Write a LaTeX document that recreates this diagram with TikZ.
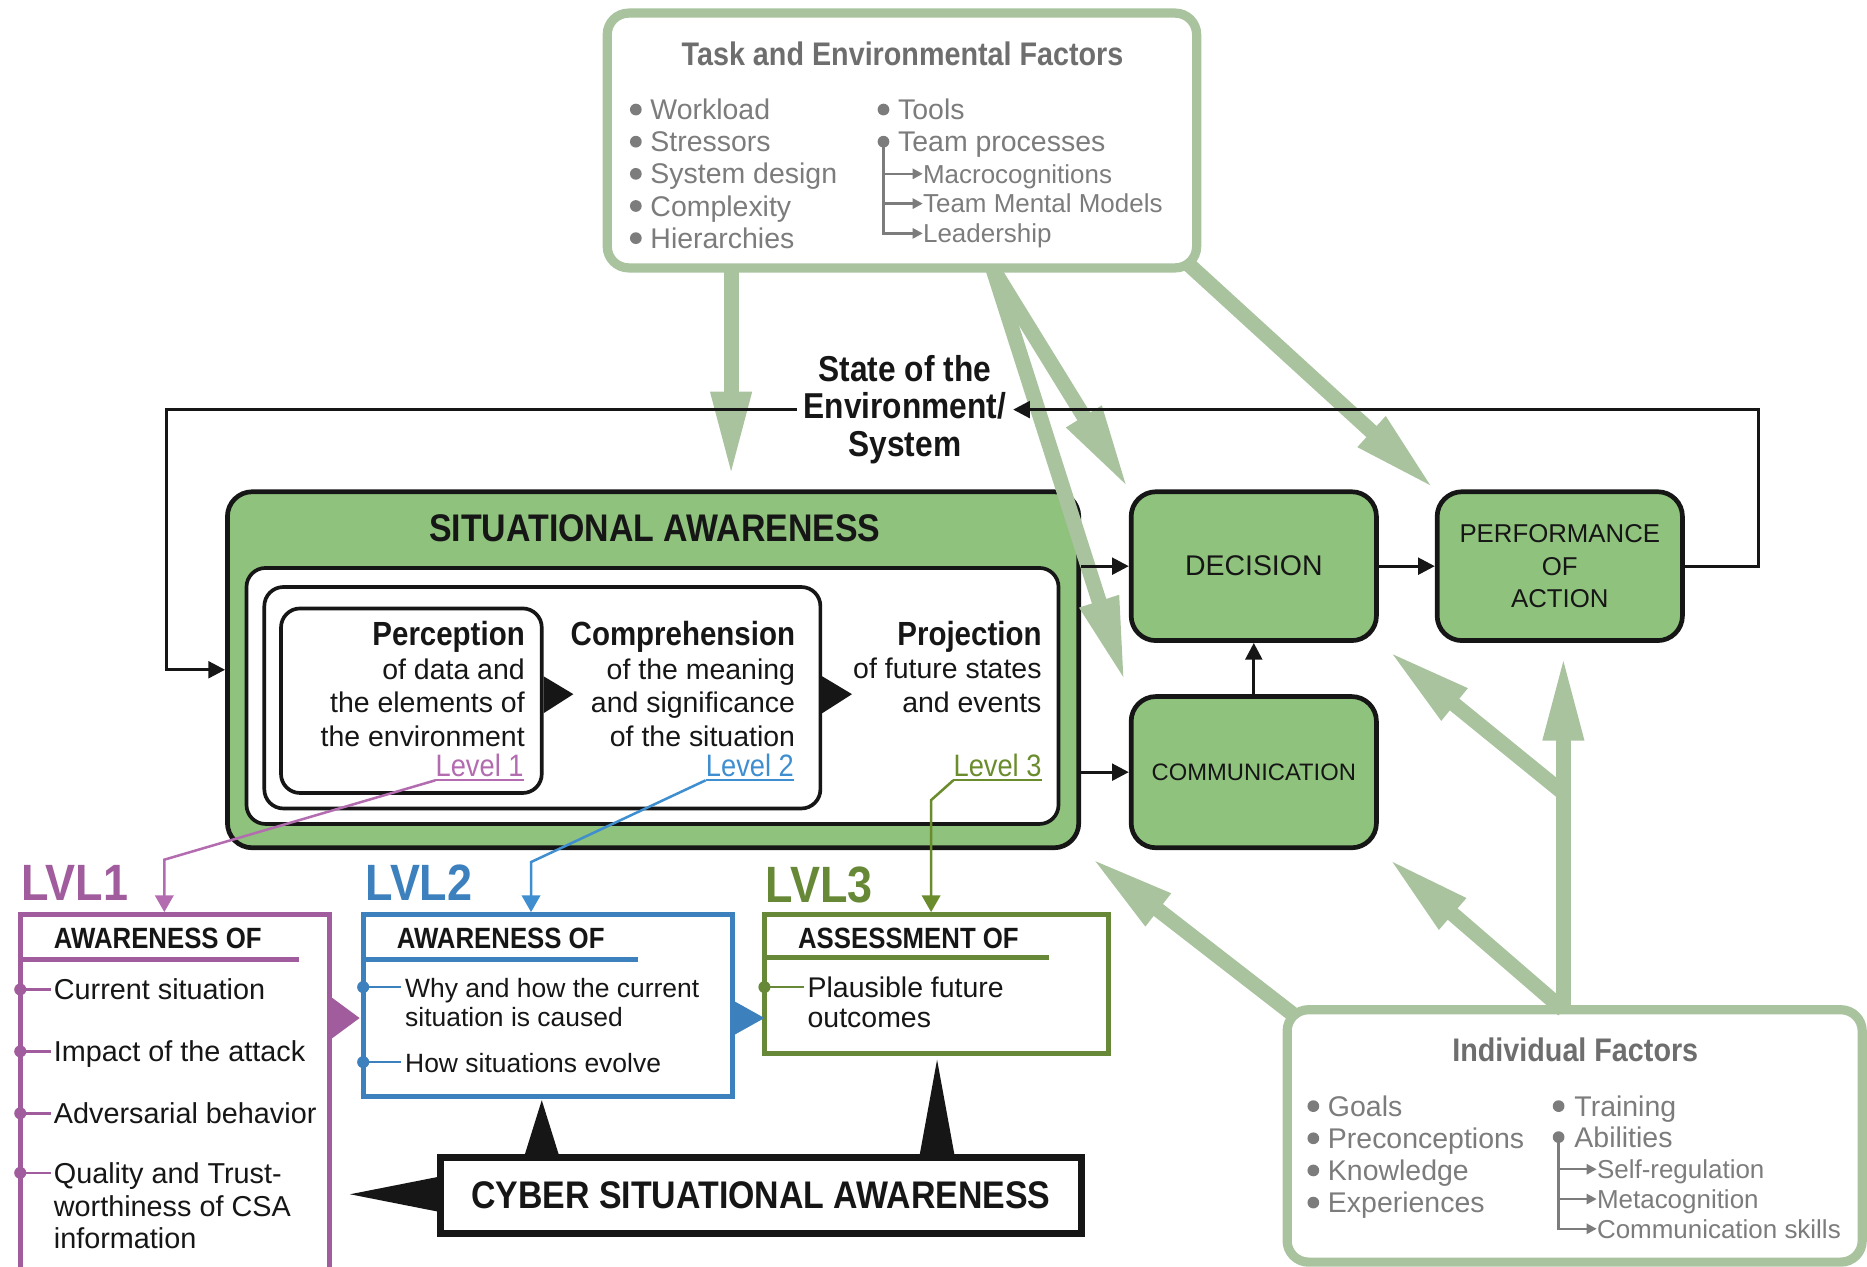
\documentclass[tikz,border=0pt]{standalone}
\usepackage{fontspec}
\setmainfont{Liberation Sans}
\newfontfamily\narrowfont[FakeStretch=0.88]{Liberation Sans}
\usepackage{xcolor}
\usepackage{tikz}
\usetikzlibrary{arrows.meta,fit}

\definecolor{boxgreen}{HTML}{8FC27C}
\definecolor{sage}{HTML}{A9C39F}
\definecolor{factorgray}{HTML}{7C7C7C}
\definecolor{titlegray}{HTML}{6E6E6E}
\definecolor{inkblack}{HTML}{161616}
\definecolor{lvlpurple}{HTML}{A15C9D}
\definecolor{lvlblue}{HTML}{3C80BD}
\definecolor{lvlolive}{HTML}{678937}
\definecolor{tagpurple}{HTML}{B36CB0}
\definecolor{tagblue}{HTML}{3F8ED0}
\definecolor{tagolive}{HTML}{6A8C2C}

\newcommand{\fsz}[2]{\fontsize{#1}{#2}\selectfont}
\newcommand{\headfont}{\narrowfont\bfseries}

\tikzset{
  flowbox/.style={draw=inkblack, line width=2.8pt, fill=boxgreen, rounded corners=0.52cm, inner sep=0pt},
  boxlabel/.style={text=inkblack, align=center, inner sep=0pt},
  framebox/.style={draw=inkblack, line width=2.2pt, rounded corners=0.4cm, inner sep=0pt},
  factorbox/.style={draw=sage, line width=5.5pt, fill=white, rounded corners=0.45cm, inner sep=0pt},
  factortitle/.style={text=titlegray, font=\headfont\fsz{19.5}{20}, inner sep=0pt},
  factoritem/.style={text=factorgray, font=\fsz{17}{20}, anchor=west, inner sep=0pt, text height=12pt, text depth=0pt},
  subitem/.style={factoritem, font=\fsz{15.5}{18}, text height=11pt},
  bulletdot/.style={circle, fill=factorgray, inner sep=0pt, minimum size=7pt},
  subarrow/.style={factorgray, line width=1.4pt, -{Triangle[length=6pt, width=6pt]}},
  bigarrow/.style={sage, line width=9pt, -{Triangle[length=1.8cm, width=0.78cm]}, shorten >=0.25cm},
  flow/.style={inkblack, line width=1.8pt, -{Triangle[length=10pt, width=10pt]}},
  satext/.style={align=right, font=\fsz{17}{20}, inner sep=0pt, anchor=east, text=inkblack},
  levellabel/.style={font=\narrowfont\fsz{18.5}{20}, inner sep=0pt, anchor=base east},
  lvlbox/.style={draw=#1, line width=2.8pt, fill=white, inner sep=0pt},
  lvlhead/.style={font=\headfont\fsz{17.5}{20}, anchor=base west, inner sep=0pt, text=inkblack},
  lvlitem/.style={font=\fsz{17.2}{19.3}, anchor=west, inner sep=0pt, text height=12pt, text depth=0pt, text=inkblack},
  lvlmulti/.style={font=\fsz{17.2}{19.3}, anchor=north west, inner sep=0pt, align=left, text=inkblack},
  lvltag/.style={text=#1, font=\headfont\fsz{30.5}{32}, anchor=base west, inner sep=0pt},
  lvlpin/.style={draw=#1, line width=1.5pt, -{Triangle[length=10pt, width=11pt]}},
}

\begin{document}
\begin{tikzpicture}[x=0.025cm, y=-0.025cm]
  \useasboundingbox (0,0) rectangle (1568,1064);

  \node[factorbox, fit={(510,11) (1005,225)}] (task) {};
  \node[factortitle] (tasktitle) at (758,45) {Task and Environmental Factors};
  \foreach \txt [count=\i] in {Workload,Stressors,System design,Complexity,Hierarchies} {
    \node[bulletdot] (tb\i) at (534,65+27*\i) {};
    \node[factoritem] (ti\i) at (546,65+27*\i) {\txt};
  }
  \node[bulletdot] (tb6) at (742,92) {};
  \node[factoritem] (ti6) at (754,92) {Tools};
  \node[bulletdot] (tb7) at (742,119) {};
  \node[factoritem] (ti7) at (754,119) {Team processes};
  \foreach \txt [count=\i] in {Macrocognitions,Team Mental Models,Leadership} {
    \node[subitem] (ts\i) at (775,121+25*\i) {\txt};
    \draw[subarrow] (tb7.center) |- (ts\i.west);
  }

  \node[factorbox, fit={(1081,848) (1564,1060)}] (indiv) {};
  \node[factortitle] (indtitle) at (1323,882) {Individual Factors};
  \foreach \txt [count=\i] in {Goals,Preconceptions,Knowledge,Experiences} {
    \node[bulletdot] (ib\i) at (1103,902+27*\i) {};
    \node[factoritem] (ii\i) at (1115,902+27*\i) {\txt};
  }
  \node[bulletdot] (ib5) at (1309,929) {};
  \node[factoritem] (ii5) at (1322,929) {Training};
  \node[bulletdot] (ib6) at (1309,955) {};
  \node[factoritem] (ii6) at (1322,955) {Abilities};
  \foreach \txt [count=\i] in {Self-regulation,Metacognition,Communication skills} {
    \node[subitem] (is\i) at (1341,957+25*\i) {\txt};
    \draw[subarrow] (ib6.center) |- (is\i.west);
  }

  \coordinate (sadrop) at (614,226);
  \coordinate (taskfoot) at (834,226);
  \coordinate (taskcorner) at (996,220);
  \coordinate (indtop) at (1313,848);
  \coordinate (indmid) at (1313,666);
  \coordinate (indcorner) at (1086,852);
  \coordinate (leftturn) at (140,344);
  \coordinate (rightturn) at (1477,344);

  \node[flowbox, fit={(191,413) (906,712)}] (sa) {};
  \node[flowbox, fit={(950,413) (1156,538)},
        label={[boxlabel, font=\fsz{17}{20}]center:DECISION}] (dec) {};
  \node[flowbox, fit={(1207,413) (1413,538)},
        label={[boxlabel, font=\fsz{15.4}{19.5}]center:PERFORMANCE\\OF\\ACTION}] (perf) {};
  \node[flowbox, fit={(950,585) (1156,712)},
        label={[boxlabel, font=\fsz{14.2}{17}]center:COMMUNICATION}] (comm) {};

  \draw[bigarrow] (sadrop) -- (sadrop |- sa.north);
  \draw[bigarrow, shorten >=0pt] (taskfoot) -- (dec.north west);
  \draw[bigarrow] (taskfoot) -- (comm.north west);
  \draw[bigarrow, shorten >=0pt] (taskcorner) -- (perf.north west);
  \draw[bigarrow] (indtop) -- (indtop |- perf.south);
  \draw[bigarrow] (indmid) -- (dec.south east);
  \draw[bigarrow] (indtop) -- (comm.south east);
  \draw[bigarrow] (indcorner) -- (sa.south east);

  \node[font=\headfont\fsz{23}{24}, inner sep=0pt, text=inkblack] (satitle) at (550,444) {SITUATIONAL AWARENESS};
  \node[framebox, fill=white, fit={(207,477) (889,692)}] (sainner) {};
  \node[framebox, fit={(222,493) (689,679)}] (compframe) {};
  \node[framebox, fit={(236,511) (455,666)}] (percframe) {};
  \node[satext] (perc) at (441,574.5) {{\headfont\fsz{20}{20}Perception}\\of data and\\the elements of\\the environment};
  \node[satext] (comp) at (668,574.5) {{\headfont\fsz{20}{20}Comprehension}\\of the meaning\\and significance\\of the situation};
  \node[satext] (proj) at (875,560) {{\headfont\fsz{20}{20}Projection}\\of future states\\and events};
  \fill[inkblack] (percframe.east |- 0,568) -- ++(25,15) -- ++(-25,16) -- cycle;
  \fill[inkblack] (compframe.east |- 0,568) -- ++(25,15) -- ++(-25,16) -- cycle;

  \node[levellabel, text=tagpurple] (lv1) at (440,652) {Level 1};
  \node[levellabel, text=tagblue] (lv2) at (667,652) {Level 2};
  \node[levellabel, text=tagolive] (lv3) at (875,652) {Level 3};
  \coordinate (lv1foot) at ([yshift=-2pt]lv1.south west);
  \coordinate (lv2foot) at ([yshift=-2pt]lv2.south west);
  \coordinate (lv3foot) at ([yshift=-2pt]lv3.south west);
  \draw[tagpurple, line width=1.4pt] (lv1foot) -- ([yshift=-2pt]lv1.south east);
  \draw[tagblue, line width=1.4pt] (lv2foot) -- ([yshift=-2pt]lv2.south east);
  \draw[tagolive, line width=1.4pt] (lv3foot) -- ([yshift=-2pt]lv3.south east);

  \node[lvlbox=lvlpurple, fit={(17,768) (277,1090)}] (box1) {};
  \node[lvlbox=lvlblue, fit={(305,768) (615,921)}] (box2) {};
  \node[lvlbox=lvlolive, fit={(642,768) (931,885)}] (box3) {};

  \coordinate (bend1) at (138,722);
  \coordinate (bend2) at (446,724);
  \coordinate (bend3) at (782,672);
  \draw[lvlpin=tagpurple] (lv1foot) -- (bend1) -- (bend1 |- box1.north);
  \draw[lvlpin=tagblue] (lv2foot) -- (bend2) -- (bend2 |- box2.north);
  \draw[lvlpin=tagolive] (lv3foot) -- (bend3) -- (bend3 |- box3.north);

  \node[lvltag=lvlpurple] (tag1) at (18,756) {LVL1};
  \node[lvltag=lvlblue] (tag2) at (307,756) {LVL2};
  \node[lvltag=lvlolive] (tag3) at (643,758) {LVL3};

  \node[lvlhead] (h1) at (45,797) {AWARENESS OF};
  \draw[lvlpurple, line width=2.8pt] (box1.west |- 0,806) -- (251,806);
  \node[lvlitem] (l1a) at (45,831) {Current situation};
  \node[lvlitem] (l1b) at (45,883) {Impact of the attack};
  \node[lvlitem] (l1c) at (45,935) {Adversarial behavior};
  \node[lvlmulti] (l1d) at (45,976.5) {Quality and Trust-\\worthiness of CSA\\information};
  \foreach \y in {831,883,935,985} {
    \fill[lvlpurple] (17,\y) circle (3.6pt);
    \draw[lvlpurple, line width=1.5pt] (17,\y) -- (43,\y);
  }

  \node[lvlhead] (h2) at (333,797) {AWARENESS OF};
  \draw[lvlblue, line width=2.8pt] (box2.west |- 0,806) -- (536,806);
  \node[lvlmulti, font=\fsz{15.8}{17.8}] (l2a) at (340,821) {Why and how the current\\situation is caused};
  \node[lvlitem, font=\fsz{15.8}{17.8}] (l2b) at (340,892) {How situations evolve};
  \foreach \y in {829,892} {
    \fill[lvlblue] (305,\y) circle (3.6pt);
    \draw[lvlblue, line width=1.5pt] (305,\y) -- (337,\y);
  }

  \node[lvlhead] (h3) at (670,797) {ASSESSMENT OF};
  \draw[lvlolive, line width=2.8pt] (box3.west |- 0,804) -- (881,804);
  \node[lvlmulti, font=\fsz{17}{17.8}] (l3a) at (678,820.5) {Plausible future\\outcomes};
  \fill[lvlolive] (642,829) circle (3.6pt);
  \draw[lvlolive, line width=1.5pt] (642,829) -- (675,829);

  \fill[lvlpurple] (box1.east |- 0,838) -- (302,855) -- (box1.east |- 0,872) -- cycle;
  \fill[lvlblue] (box2.east |- 0,841) -- (642,855) -- (box2.east |- 0,869) -- cycle;

  \node[draw=inkblack, line width=4.3pt, fill=white, inner sep=0pt, fit={(370,972) (908,1036)},
        label={[boxlabel, font=\headfont\fsz{23}{24}]center:CYBER SITUATIONAL AWARENESS}] (csa) {};
  \fill[inkblack] (440,972) -- (455,924) -- (470,972) -- cycle;
  \fill[inkblack] (772,972) -- (787,890) -- (802,972) -- cycle;
  \fill[inkblack] (370,988) -- (294,1003) -- (370,1018) -- cycle;

  \node[font=\headfont\fsz{21.5}{22.5}, align=center, inner sep=4pt, text=inkblack] (env) at (760,344) {State of the\\Environment/\\System};

  \draw[flow] (env.west) -- (leftturn) |- (sa.west);
  \draw[flow] (perf.east) -| (rightturn) -- (env.east);
  \draw[flow] (sa.east |- dec.west) -- (dec.west);
  \draw[flow] (sa.east |- comm.west) -- (comm.west);
  \draw[flow] (dec.east) -- (perf.west);
  \draw[flow] (comm.north) -- (dec.south);
\end{tikzpicture}
\end{document}
